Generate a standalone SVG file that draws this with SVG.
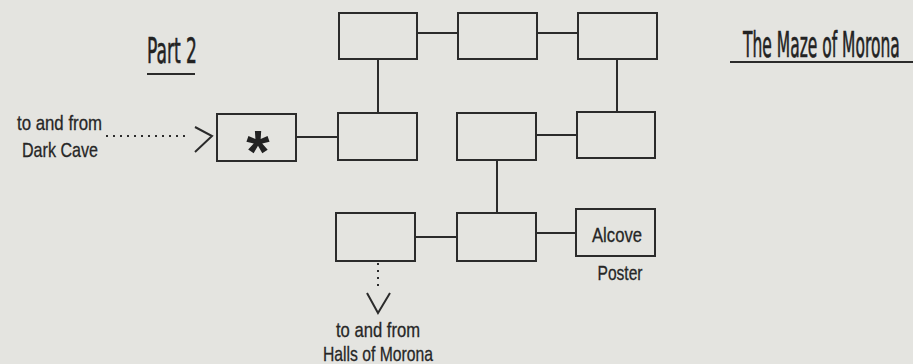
<svg xmlns="http://www.w3.org/2000/svg" width="913" height="364" viewBox="0 0 913 364">
<style>
.bx{fill:none;stroke:#2b2b2b;stroke-width:2}
.ln{fill:none;stroke:#2b2b2b;stroke-width:2}
.dt{fill:none;stroke:#2b2b2b;stroke-width:2;stroke-dasharray:2 5}
.lbl{font-family:"Liberation Sans",Arial,sans-serif;font-size:21px;fill:#262626;stroke:#262626;stroke-width:0.3}
.ttl{font-family:"DejaVu Sans Condensed","DejaVu Sans",sans-serif;font-size:36px;fill:#222;stroke:#222;stroke-width:0.6}
</style>
<rect width="913" height="364" fill="#e4e4e0"/>
<g id="title-part">
<text class="ttl" x="147" y="63" textLength="50" lengthAdjust="spacingAndGlyphs">Part 2</text>
<line class="ln" x1="147" y1="74" x2="195" y2="74"/>
</g>
<g id="title-maze">
<text class="ttl" transform="translate(743,57) scale(0.55,1)" x="0" y="0" textLength="285" lengthAdjust="spacingAndGlyphs">The Maze of Morona</text>
<line class="ln" x1="730" y1="62" x2="913" y2="62"/>
</g>
<g id="dark-cave">
<text class="lbl" x="17" y="130" textLength="85" lengthAdjust="spacingAndGlyphs">to and from</text>
<text class="lbl" x="22" y="157" textLength="76" lengthAdjust="spacingAndGlyphs">Dark Cave</text>
</g>
<g id="halls">
<text class="lbl" x="378" y="337" text-anchor="middle" textLength="84" lengthAdjust="spacingAndGlyphs">to and from</text>
<text class="lbl" x="378" y="361" text-anchor="middle" textLength="110" lengthAdjust="spacingAndGlyphs">Halls of Morona</text>
</g>
<g id="connectors">
<line class="dt" x1="106" y1="136" x2="190" y2="136"/>
<polyline class="ln" points="195,127 212,136 195,152"/>
<line class="ln" x1="296" y1="137" x2="338" y2="137"/>
<line class="ln" x1="417" y1="33" x2="458" y2="33"/>
<line class="ln" x1="537" y1="33" x2="578" y2="33"/>
<line class="ln" x1="378" y1="59" x2="378" y2="113"/>
<line class="ln" x1="617" y1="59" x2="617" y2="112"/>
<line class="ln" x1="536" y1="135" x2="577" y2="135"/>
<line class="ln" x1="497" y1="160" x2="497" y2="213"/>
<line class="ln" x1="415" y1="237" x2="457" y2="237"/>
<line class="ln" x1="536" y1="233" x2="576" y2="233"/>
<line class="dt" x1="378" y1="263" x2="378" y2="288"/>
<polyline class="ln" points="367,293 378,313 390,293"/>
</g>
<g id="start"><rect class="bx" x="217" y="114" width="79" height="47"/>
<text x="258" y="172" text-anchor="middle" font-family="Liberation Sans,Arial,sans-serif" font-weight="bold" font-size="60" fill="#222">*</text></g>
<g id="room-a"><rect class="bx" x="339" y="13" width="78" height="46"/></g>
<g id="room-b"><rect class="bx" x="458" y="13" width="79" height="46"/></g>
<g id="room-c"><rect class="bx" x="578" y="13" width="79" height="46"/></g>
<g id="room-d"><rect class="bx" x="338" y="113" width="79" height="47"/></g>
<g id="room-e"><rect class="bx" x="457" y="113" width="79" height="47"/></g>
<g id="room-f"><rect class="bx" x="577" y="112" width="78" height="46"/></g>
<g id="room-g"><rect class="bx" x="336" y="213" width="79" height="48"/></g>
<g id="room-h"><rect class="bx" x="457" y="213" width="79" height="48"/></g>
<g id="alcove"><rect class="bx" x="576" y="209" width="79" height="47"/>
<text class="lbl" x="617" y="242" text-anchor="middle" textLength="50" lengthAdjust="spacingAndGlyphs">Alcove</text>
<text class="lbl" x="620" y="280" text-anchor="middle" textLength="45" lengthAdjust="spacingAndGlyphs">Poster</text></g>
</svg>
